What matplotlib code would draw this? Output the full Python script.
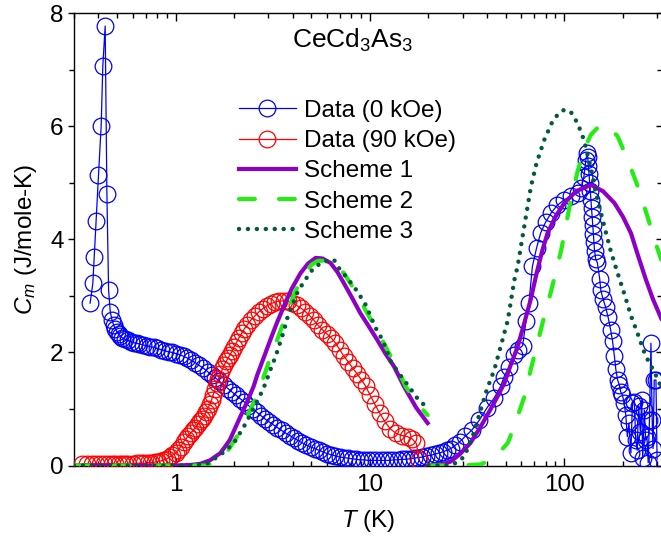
import matplotlib
matplotlib.use("Agg")
import matplotlib.pyplot as plt
from matplotlib.ticker import LogLocator, NullFormatter, FixedLocator

plt.rcParams['font.family'] = ['Liberation Sans', 'DejaVu Sans']
plt.rcParams['mathtext.fontset'] = 'custom'
plt.rcParams['mathtext.rm'] = 'Liberation Sans'
plt.rcParams['mathtext.it'] = 'Liberation Sans:italic'
plt.rcParams['font.size'] = 17.5

# ---- Data (0 kOe) ----
t_0koe = [0.363, 0.375, 0.381, 0.390, 0.401, 0.414, 0.422, 0.434, 0.443, 0.452,
          0.461, 0.47, 0.48, 0.49, 0.50, 0.51, 0.52, 0.53, 0.55, 0.57,
          0.59, 0.61, 0.63, 0.65, 0.68, 0.71, 0.74, 0.77, 0.80, 0.84,
          0.88, 0.92, 0.96, 1.00, 1.05, 1.10, 1.15, 1.20, 1.26, 1.32,
          1.39, 1.46, 1.53, 1.60, 1.68, 1.77, 1.86, 1.95, 2.05, 2.15,
          2.26, 2.37, 2.49, 2.62, 2.75, 2.89, 3.03, 3.18, 3.34, 3.51,
          3.69, 3.87, 4.07, 4.27, 4.49, 4.71, 4.95, 5.20, 5.46, 5.73,
          6.02, 6.32, 6.64, 6.97, 7.32, 7.69, 8.07, 8.48, 8.90, 9.35,
          9.82, 10.3, 10.8, 11.4, 12.0, 12.6, 13.2, 13.9, 14.6, 15.3,
          16.1, 16.9, 17.7, 18.6, 19.5, 20.5, 21.5, 22.6, 23.7, 24.9,
          26.1, 27.5, 29.0, 31.0, 33.5, 36.5, 40.0, 43.5, 47.0, 49.0,
          52.0, 55.0, 57.5, 61.0, 63.5, 65.7, 68.5, 72.0, 75.5, 80.0,
          85.7, 92.0, 100, 108, 117, 122, 126, 129, 131, 132,
          133, 134, 135, 136, 137, 138, 139, 140, 141, 142,
          143, 145, 148, 152, 154, 158, 163, 168, 173, 177,
          181, 184, 188, 192, 195, 199, 203, 207, 211, 215,
          220, 224, 229, 233, 237, 241, 246, 250, 253, 258,
          262, 266, 270, 274, 279, 283, 286, 290, 296, 300]
c_0koe = [2.87, 3.22, 3.68, 4.33, 5.13, 6.01, 7.06, 7.77, 4.80, 3.10,
          2.72, 2.58, 2.48, 2.41, 2.36, 2.32, 2.29, 2.26, 2.23, 2.21,
          2.19, 2.17, 2.16, 2.15, 2.13, 2.12, 2.10, 2.09, 2.07, 2.05,
          2.03, 2.01, 2.00, 1.98, 1.96, 1.93, 1.90, 1.86, 1.82, 1.77,
          1.72, 1.66, 1.60, 1.55, 1.49, 1.42, 1.36, 1.30, 1.24, 1.18,
          1.12, 1.06, 1.00, 0.94, 0.88, 0.82, 0.77, 0.72, 0.67, 0.62,
          0.57, 0.53, 0.48, 0.44, 0.40, 0.36, 0.33, 0.30, 0.27, 0.24,
          0.21, 0.19, 0.17, 0.15, 0.14, 0.13, 0.12, 0.11, 0.10, 0.10,
          0.09, 0.09, 0.09, 0.09, 0.09, 0.09, 0.10, 0.10, 0.11, 0.11,
          0.12, 0.13, 0.14, 0.15, 0.17, 0.18, 0.20, 0.22, 0.24, 0.27,
          0.30, 0.36, 0.42, 0.52, 0.63, 0.80, 1.02, 1.19, 1.40, 1.57,
          1.75, 1.95, 2.04, 2.12, 2.55, 2.87, 3.52, 3.85, 4.11, 4.30,
          4.47, 4.60, 4.70, 4.76, 4.82, 4.90, 5.10, 5.40, 5.53, 5.45,
          5.30, 5.15, 5.00, 4.85, 4.70, 4.55, 4.40, 4.25, 4.10, 3.95,
          3.80, 3.65, 3.58, 3.30, 3.10, 2.95, 2.80, 2.62, 2.40, 2.20,
          1.93, 1.70, 1.51, 1.42, 1.30, 1.25, 1.10, 0.90, 0.51, 0.75,
          0.22, 1.10, 1.13, 0.45, 0.27, 1.05, 0.60, 1.16, 0.13, 0.98,
          0.45, 0.51, 0.05, 0.80, 2.16, 0.81, 0.30, 1.51, 1.51, 0.10]

# ---- Data (90 kOe) ----
t_90koe = [0.33, 0.35, 0.37, 0.39, 0.41, 0.43, 0.45, 0.47, 0.49, 0.51,
           0.53, 0.55, 0.57, 0.60, 0.63, 0.66, 0.69, 0.72, 0.75, 0.78,
           0.81, 0.84, 0.87, 0.90, 0.93, 0.96, 1.00, 1.03, 1.06, 1.10,
           1.13, 1.16, 1.20, 1.23, 1.26, 1.30, 1.33, 1.36, 1.40, 1.43,
           1.46, 1.50, 1.53, 1.56, 1.60, 1.63, 1.66, 1.70, 1.74, 1.78,
           1.82, 1.86, 1.90, 1.95, 2.00, 2.06, 2.12, 2.19, 2.26, 2.34,
           2.44, 2.55, 2.67, 2.80, 2.94, 3.09, 3.25, 3.42, 3.60, 3.79,
           3.99, 4.20, 4.42, 4.65, 4.89, 5.14, 5.41, 5.69, 5.99, 6.30,
           6.63, 6.98, 7.35, 7.74, 8.15, 8.58, 9.03, 9.50, 10.0, 10.6,
           11.2, 11.9, 12.7, 13.6, 14.6, 15.6, 16.5, 17.3, 17.9]
c_90koe = [0.03, 0.03, 0.03, 0.03, 0.03, 0.03, 0.03, 0.03, 0.03, 0.03,
           0.03, 0.03, 0.03, 0.03, 0.04, 0.04, 0.04, 0.05, 0.05, 0.06,
           0.07, 0.08, 0.10, 0.12, 0.15, 0.18, 0.22, 0.27, 0.33, 0.42,
           0.47, 0.52, 0.58, 0.62, 0.67, 0.73, 0.78, 0.83, 0.88, 0.94,
           1.00, 1.08, 1.16, 1.25, 1.36, 1.45, 1.53, 1.62, 1.70, 1.78,
           1.84, 1.90, 1.95, 2.02, 2.10, 2.18, 2.26, 2.34, 2.42, 2.49,
           2.57, 2.64, 2.71, 2.77, 2.82, 2.86, 2.89, 2.91, 2.91, 2.90,
           2.87, 2.83, 2.78, 2.72, 2.65, 2.57, 2.48, 2.40, 2.33, 2.26,
           2.17, 2.05, 1.93, 1.83, 1.72, 1.62, 1.52, 1.40, 1.25, 1.08,
           0.93, 0.78, 0.65, 0.57, 0.53, 0.51, 0.47, 0.39, 0.10]

# ---- Scheme 1 ----
t_s1a = [0.3, 1.0, 1.2, 1.34, 1.5, 1.7, 1.9, 2.15, 2.35, 2.52, 2.63, 2.8, 3.07,
         3.3, 3.6, 3.95, 4.39, 4.8, 5.25, 5.7, 6.27, 6.8, 7.35, 8.1, 8.93,
         9.9, 10.9, 12.0, 13.3, 15.0, 17.3, 19.8]
c_s1a = [0.0, 0.0, 0.01, 0.03, 0.09, 0.22, 0.45, 0.86, 1.15, 1.40, 1.60, 1.85, 2.22,
         2.50, 2.81, 3.12, 3.40, 3.57, 3.67, 3.66, 3.58, 3.42, 3.22, 2.96, 2.69,
         2.45, 2.22, 1.98, 1.75, 1.39, 1.02, 0.75]
t_s1b = [20, 24, 26, 29, 32.9, 37, 41.5, 45, 49.2, 53, 57.5, 62, 67.3, 72, 77,
         82, 90, 100, 115, 137, 158, 181, 200, 220, 240, 262, 285, 315]
c_s1b = [0.0, 0.03, 0.07, 0.2, 0.4, 0.68, 0.98, 1.2, 1.46, 1.78, 2.1, 2.5, 2.95, 3.4, 3.8,
         4.11, 4.4, 4.64, 4.85, 4.96, 4.85, 4.64, 4.4, 4.11, 3.7, 3.3, 2.95, 2.6]

# ---- Scheme 2 ----
t_s2a = [0.3, 1.2, 1.45, 1.6, 1.84, 2.1, 2.33, 2.55, 2.84, 3.05, 3.33, 3.65, 4.06,
         4.5, 5.0, 5.4, 5.9, 6.5, 7.35, 8.4, 9.68, 11.0, 12.3, 13.8, 15.3, 17.5, 19.8]
c_s2a = [0.0, 0.0, 0.0, 0.07, 0.24, 0.55, 0.86, 1.15, 1.57, 1.88, 2.22, 2.60, 3.02,
         3.35, 3.55, 3.62, 3.62, 3.55, 3.40, 3.08, 2.69, 2.36, 2.04, 1.72, 1.39, 1.10, 0.89]
t_s2b = [20, 30, 37.1, 42, 46, 51.2, 56, 62.3, 67, 72.7, 79, 85.7, 96.4, 108, 117,
         126, 137, 154, 170, 188, 212, 239, 265, 291, 315]
c_s2b = [0.0, 0.0, 0.02, 0.1, 0.22, 0.4, 0.75, 1.22, 1.68, 2.16, 2.65, 3.1, 3.81, 4.7, 5.2,
         5.58, 5.85, 6.03, 5.98, 5.82, 5.4, 4.93, 4.45, 3.99, 3.64]

# ---- Scheme 3 ----
t_s3a = [0.3, 1.2, 1.45, 1.70, 1.99, 2.3, 2.73, 2.9, 3.07, 3.27, 3.6, 3.75, 4.22,
         4.57, 5.1, 5.7, 6.52, 6.92, 7.7, 8.6, 9.5, 10.7, 11.6, 12.8, 14.3, 15.9,
         17.5, 19.4]
c_s3a = [0.0, 0.0, 0.03, 0.19, 0.39, 0.75, 1.25, 1.45, 1.69, 1.93, 2.37, 2.60, 3.05,
         3.25, 3.48, 3.60, 3.64, 3.49, 3.30, 3.08, 2.84, 2.43, 2.22, 1.84, 1.60, 1.39,
         1.19, 1.04]
t_s3b = [20, 25, 28, 30.6, 34, 37.1, 40, 43.6, 47, 51.2, 55.3, 57.5, 62, 67.3, 72,
         78.9, 86, 93, 100, 108, 117, 126, 137, 148, 160, 173, 188, 205, 220, 239,
         259, 273, 290, 309, 315]
c_s3b = [0.0, 0.0, 0.05, 0.16, 0.55, 0.98, 1.35, 1.69, 2.1, 2.57, 3.28, 3.52, 4.2, 4.93, 5.35,
         5.76, 6.05, 6.22, 6.29, 6.25, 6.05, 5.76, 5.25, 4.7, 4.25, 3.8, 3.4, 3.0, 2.65, 2.32,
         1.98, 1.82, 1.66, 1.45, 1.4]

BLUE = '#0000FF'
RED = '#FF0000'
PURPLE = '#8E00C6'
GREEN = '#22EE11'
DKGREEN = '#005A3C'
DASH = (0, (3.8, 5.8))
DOT = (0, (0.01, 2.0))

fig = plt.figure(figsize=(6.61, 5.46), dpi=100)
ax = fig.add_axes([74 / 661, 1 - 465.5 / 546, 588 / 661, 452.5 / 546])

ax.plot(t_0koe, c_0koe, '-o', color=BLUE, lw=0.9, ms=12, mfc='none', mec=BLUE, mew=0.9,
        label='Data (0 kOe)', zorder=3)
ax.plot(t_90koe, c_90koe, '-o', color=RED, lw=0.9, ms=12, mfc='none', mec=RED, mew=0.9,
        label='Data (90 kOe)', zorder=3)

ax.plot(t_s1a, c_s1a, '-', color=PURPLE, lw=3, label='Scheme 1', zorder=4)
ax.plot(t_s1b, c_s1b, '-', color=PURPLE, lw=3, zorder=4)
ax.plot(t_s2a, c_s2a, color=GREEN, lw=3, ls=DASH, dash_capstyle='round',
        label='Scheme 2', zorder=5)
ax.plot(t_s2b, c_s2b, color=GREEN, lw=3, ls=DASH, dash_capstyle='round', zorder=5)
ax.plot(t_s3a, c_s3a, color=DKGREEN, lw=3.2, ls=DOT, dash_capstyle='round',
        label='Scheme 3', zorder=5)
ax.plot(t_s3b, c_s3b, color=DKGREEN, lw=3.2, ls=DOT, dash_capstyle='round', zorder=5)

ax.set_xscale('log')
ax.set_xlim(0.3, 318)
ax.set_ylim(0, 8)

ax.xaxis.set_major_locator(FixedLocator([1, 10, 100]))
ax.set_xticklabels(['1', '10', '100'])
ax.xaxis.set_minor_locator(LogLocator(base=10, subs=range(2, 10)))
ax.xaxis.set_minor_formatter(NullFormatter())
ax.set_yticks([0, 2, 4, 6, 8])
ax.set_yticks([1, 3, 5, 7], minor=True)

for s in ax.spines.values():
    s.set_linewidth(1.0)
ax.tick_params(axis='x', which='both', direction='in', top=True, bottom=True, width=1.0,
               labelsize=17.5, pad=6)
ax.tick_params(axis='x', which='major', length=6)
ax.tick_params(axis='x', which='minor', length=3.5)
ax.tick_params(axis='y', which='both', direction='out', left=True, right=False, width=1.0,
               labelsize=17.5, pad=3)
ax.tick_params(axis='y', which='major', length=4.5)
ax.tick_params(axis='y', which='minor', length=3.5)

sec = ax.secondary_yaxis('right')
sec.set_yticks([0, 2, 4, 6, 8])
sec.set_yticks([1, 3, 5, 7], minor=True)
sec.tick_params(which='both', direction='in', labelright=False, width=1.0)
sec.tick_params(which='major', length=4.5)
sec.tick_params(which='minor', length=3.5)

ax.set_xlabel(r'$T$ (K)', fontsize=17.5, labelpad=9)
ax.set_ylabel(r'$C_m$ (J/mole-K)', fontsize=17.5, labelpad=8)

ax.text(0.474, 0.94, r'CeCd$_3$As$_3$', transform=ax.transAxes, ha='center', va='center',
        fontsize=19)

ax.legend(loc='upper left', bbox_to_anchor=(0.28, 0.808), frameon=False, fontsize=17.5,
          handlelength=2.35, handletextpad=0.33, labelspacing=0.34, borderpad=0,
          borderaxespad=0)

fig.savefig('out.png', dpi=100)
